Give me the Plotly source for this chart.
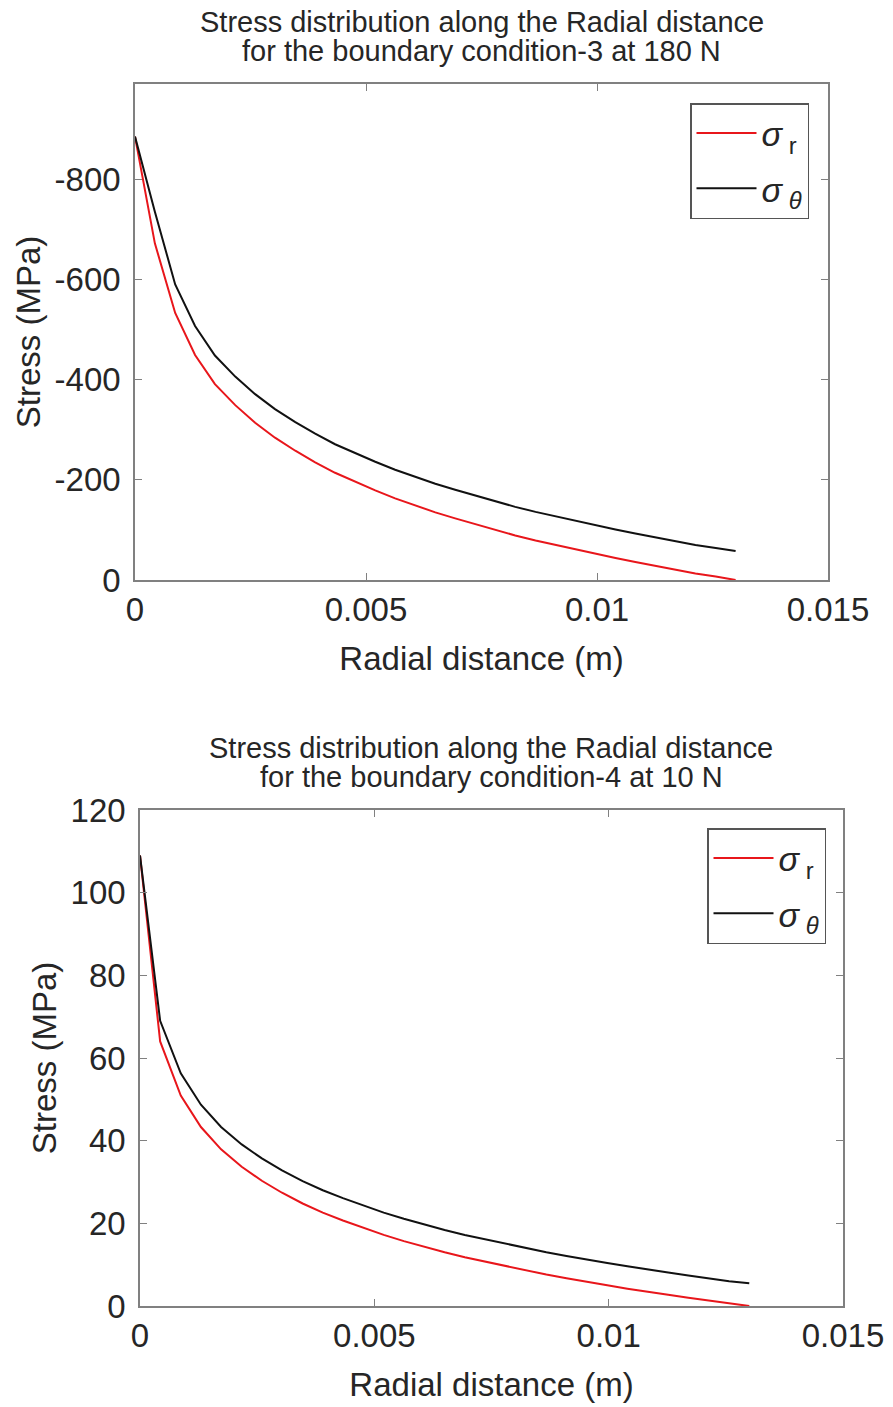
import plotly.graph_objects as go

# Radial positions (m)
radial_distance = [0, 0.00043, 0.00087, 0.0013, 0.00173, 0.00217, 0.0026, 0.00303,
                   0.00347, 0.0039, 0.00433, 0.00477, 0.0052, 0.00563, 0.00607, 0.0065,
                   0.00693, 0.00737, 0.0078, 0.00823, 0.00867, 0.0091, 0.00953, 0.00997,
                   0.0104, 0.01083, 0.01127, 0.0117, 0.01213, 0.01257, 0.013]

# Boundary condition-3 at 180 N (MPa)
bc3_sigma_r = [-885, -672, -533, -449, -391, -349, -314, -284, -258, -235, -214, -196,
               -179, -163, -149, -135, -123, -111, -100, -89, -79, -70, -61, -52, -44,
               -36, -28, -21, -13, -7, 0]
bc3_sigma_theta = [-885, -735, -590, -507, -448, -406, -371, -341, -315, -292, -271,
                   -253, -236, -220, -206, -192, -180, -168, -157, -146, -136, -127,
                   -118, -109, -101, -93, -85, -78, -70, -64, -58]

# Boundary condition-4 at 10 N (MPa)
bc4_sigma_r = [109, 64, 50.9, 43.3, 37.9, 33.7, 30.3, 27.4, 24.8, 22.6, 20.7, 18.9,
               17.2, 15.7, 14.3, 13.0, 11.8, 10.7, 9.6, 8.6, 7.6, 6.7, 5.8, 5.0, 4.2,
               3.4, 2.7, 2.0, 1.3, 0.6, 0]
bc4_sigma_theta = [109, 69, 56.3, 48.7, 43.3, 39.1, 35.7, 32.8, 30.2, 28.0, 26.1, 24.3,
                   22.6, 21.1, 19.7, 18.4, 17.2, 16.1, 15.0, 14.0, 13.0, 12.1, 11.2,
                   10.4, 9.6, 8.8, 8.1, 7.4, 6.7, 6.0, 5.5]

x_ticks = [0, 0.005, 0.01, 0.015]
x_tick_text = ["0", "0.005", "0.01", "0.015"]
bc3_ticks = [0, -200, -400, -600, -800]
bc3_tick_text = ["0", "-200", "-400", "-600", "-800"]
bc4_ticks = [0, 20, 40, 60, 80, 100, 120]
bc4_tick_text = ["0", "20", "40", "60", "80", "100", "120"]

titles = [
    ["Stress distribution along the Radial distance",
     "for the boundary condition-3 at 180 N"],
    ["Stress distribution along the Radial distance",
     "for the boundary condition-4 at 10 N"],
]

W, H = 893, 1407
FONT = "Liberation Sans, Arial, sans-serif"
TEXT = "#262626"
AXIS_GREY = "#808080"
RED = "#e8161b"
BLACK = "#111111"

# Plot areas in pixels: (left, right, top, bottom)
boxes = [(135, 828, 84, 580), (140, 843, 810, 1306)]


def xdom(b):
    return [b[0] / W, b[1] / W]


def ydom(b):
    return [1 - b[3] / H, 1 - b[2] / H]


fig = go.Figure()

sig_r = "<i>σ</i><sub> r</sub>"
sig_t = "<i>σ</i><sub> <i>θ</i></sub>"

series = [
    (bc3_sigma_r, sig_r, RED, "x", "y", "legend", "r"),
    (bc3_sigma_theta, sig_t, BLACK, "x", "y", "legend", "t"),
    (bc4_sigma_r, sig_r, RED, "x2", "y2", "legend2", "r"),
    (bc4_sigma_theta, sig_t, BLACK, "x2", "y2", "legend2", "t"),
]
for values, name, color, xa, ya, leg, grp in series:
    fig.add_trace(go.Scatter(x=radial_distance, y=values, mode="lines", name=name,
                             line=dict(color=color, width=2), xaxis=xa, yaxis=ya,
                             legend=leg, legendgroup=leg + grp))

axis_common = dict(showline=True, linecolor=AXIS_GREY, linewidth=1.5, mirror="ticks",
                   ticks="inside", ticklen=7, tickcolor=AXIS_GREY, tickwidth=1,
                   showgrid=False, zeroline=False, automargin=False,
                   tickfont=dict(family=FONT, size=33, color=TEXT))
title_font = dict(family=FONT, size=33, color=TEXT)
legend_common = dict(xanchor="left", yanchor="top", bordercolor="#555555",
                     borderwidth=1.5, bgcolor="white",
                     font=dict(family=FONT, size=34, color=TEXT),
                     itemwidth=60, traceorder="grouped", tracegroupgap=8)

fig.update_layout(
    template="none",
    width=W, height=H,
    margin=dict(l=0, r=0, t=0, b=0),
    paper_bgcolor="white", plot_bgcolor="white",
    showlegend=True,
    xaxis=dict(domain=xdom(boxes[0]), range=[0, 0.015], tickvals=x_ticks,
               ticktext=x_tick_text, anchor="y",
               title=dict(text="Radial distance (m)", standoff=20, font=title_font),
               **axis_common),
    yaxis=dict(domain=ydom(boxes[0]), range=[0, -990], tickvals=bc3_ticks,
               ticktext=bc3_tick_text, anchor="x", ticklabelstandoff=6,
               title=dict(text="Stress (MPa)", standoff=4, font=title_font),
               **axis_common),
    xaxis2=dict(domain=xdom(boxes[1]), range=[0, 0.015], tickvals=x_ticks,
                ticktext=x_tick_text, anchor="y2",
                title=dict(text="Radial distance (m)", standoff=20, font=title_font),
                **axis_common),
    yaxis2=dict(domain=ydom(boxes[1]), range=[0, 120], tickvals=bc4_ticks,
                ticktext=bc4_tick_text, anchor="x2", ticklabelstandoff=6,
                title=dict(text="Stress (MPa)", standoff=4, font=title_font),
                **axis_common),
    legend=dict(x=690 / W, y=1 - 103 / H, **legend_common),
    legend2=dict(x=707 / W, y=1 - 828 / H, **legend_common),
)

# Two-line titles above each plot
for b, (line1, line2) in zip(boxes, titles):
    cx = (b[0] + b[1]) / 2 / W
    top = b[2]
    for text, yc in ((line1, top - 62), (line2, top - 33)):
        fig.add_annotation(x=cx, y=1 - yc / H, xref="paper", yref="paper",
                           text=text, showarrow=False, xanchor="center",
                           yanchor="middle",
                           font=dict(family=FONT, size=29, color=TEXT))

fig.write_html("out.html")
